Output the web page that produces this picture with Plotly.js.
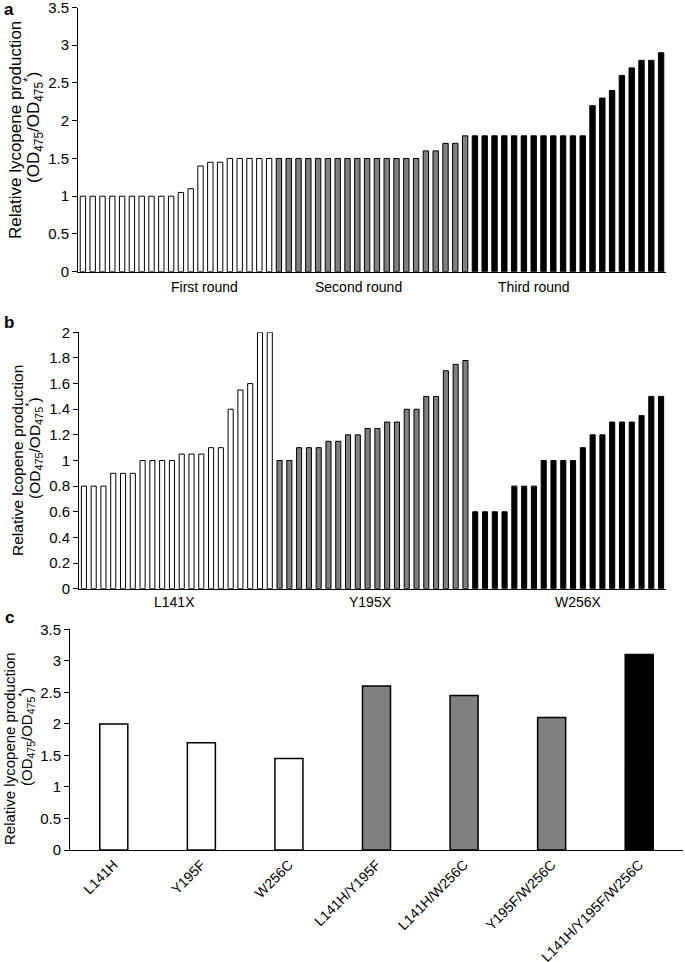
<!DOCTYPE html>
<html>
<head>
<meta charset="utf-8">
<script src="https://cdn.plot.ly/plotly-3.0.1.min.js"></script>
<style>html,body{margin:0;padding:0;background:#fff;}#chart{width:685px;height:962px;}</style>
</head>
<body>
<div id="chart"></div>
<script>
// ---- Panel a data ----
const roundNames = ["First round", "Second round", "Third round"];
const firstRound = [1, 1, 1, 1, 1, 1, 1, 1, 1, 1, 1.05, 1.1, 1.4, 1.45, 1.45, 1.5, 1.5, 1.5, 1.5, 1.5];
const secondRound = [1.5, 1.5, 1.5, 1.5, 1.5, 1.5, 1.5, 1.5, 1.5, 1.5, 1.5, 1.5, 1.5, 1.5, 1.5, 1.6, 1.6, 1.7, 1.7, 1.8];
const thirdRound = [1.8, 1.8, 1.8, 1.8, 1.8, 1.8, 1.8, 1.8, 1.8, 1.8, 1.8, 1.8, 2.2, 2.3, 2.4, 2.6, 2.7, 2.8, 2.8, 2.9];

// ---- Panel b data ----
const siteNames = ["L141X", "Y195X", "W256X"];
const l141x = [0.8, 0.8, 0.8, 0.9, 0.9, 0.9, 1, 1, 1, 1, 1.05, 1.05, 1.05, 1.1, 1.1, 1.4, 1.55, 1.6, 2, 2];
const y195x = [1, 1, 1.1, 1.1, 1.1, 1.15, 1.15, 1.2, 1.2, 1.25, 1.25, 1.3, 1.3, 1.4, 1.4, 1.5, 1.5, 1.7, 1.75, 1.78];
const w256x = [0.6, 0.6, 0.6, 0.6, 0.8, 0.8, 0.8, 1, 1, 1, 1, 1.1, 1.2, 1.2, 1.3, 1.3, 1.3, 1.35, 1.5, 1.5];

// ---- Panel c data ----
const mutants = ["L141H", "Y195F", "W256C", "L141H/Y195F", "L141H/W256C", "Y195F/W256C", "L141H/Y195F/W256C"];
const mutantValues = [2.0, 1.7, 1.45, 2.6, 2.45, 2.1, 3.1];
const mutantGroups = ["single", "single", "single", "double", "double", "double", "triple"];

const FONT = "Liberation Sans, Arial, sans-serif";
const fills = ["#ffffff", "#808080", "#000000"];
const groupFill = {single: "#ffffff", double: "#808080", triple: "#000000"};

function seqTraces(groups, xa, ya, w) {
  const traces = [];
  let start = 0;
  groups.forEach((vals, gi) => {
    traces.push({
      type: "bar",
      x: vals.map((v, i) => start + i),
      y: vals,
      width: w,
      xaxis: xa, yaxis: ya,
      marker: {color: fills[gi], line: {color: "#000", width: 1}},
      hoverinfo: "y",
      showlegend: false
    });
    start += vals.length;
  });
  return traces;
}

const data = [].concat(
  seqTraces([firstRound, secondRound, thirdRound], "x", "y", 0.55),
  seqTraces([l141x, y195x, w256x], "x2", "y2", 0.52),
  [{
    type: "bar",
    x: mutants,
    y: mutantValues,
    width: 0.32,
    xaxis: "x3", yaxis: "y3",
    marker: {color: mutantGroups.map(g => groupFill[g]), line: {color: "#000", width: 1.5}},
    hoverinfo: "y",
    showlegend: false
  }]
);

const W = 685, H = 962;
const px = v => v / W;
const py = v => 1 - v / H;

const yCommon = {
  showline: true, linecolor: "#000", linewidth: 1,
  ticks: "outside", ticklen: 5, tickcolor: "#000", tickwidth: 1,
  showgrid: false, zeroline: false, ticklabeloverflow: "allow",
  tickfont: {family: FONT, size: 15, color: "#000"}
};
const xCommon = {
  showline: true, linecolor: "#000", linewidth: 1.2,
  ticks: "", showgrid: false, zeroline: false, ticklabeloverflow: "allow",
  tickfont: {family: FONT, size: 14, color: "#000"}
};

const line1 = "Relative lycopene production";
const line1b = "Relative lcopene production";
const line2 = "(OD<sub>475</sub>/OD<sub>475</sub><sup>*</sup>)";

function ann(text, x, y, size, extra) {
  return Object.assign({
    text: text, x: x, y: y, xref: "paper", yref: "paper",
    xanchor: "center", yanchor: "middle", showarrow: false,
    font: {family: FONT, size: size, color: "#000"}
  }, extra || {});
}
const rot = {textangle: -90};

const layout = {
  width: W, height: H,
  margin: {l: 0, r: 0, t: 0, b: 0},
  paper_bgcolor: "#fff", plot_bgcolor: "#fff",
  barmode: "overlay",
  showlegend: false,
  xaxis: Object.assign({}, xCommon, {domain: [px(78), px(666)], range: [-0.5, 59.5], showticklabels: false, anchor: "y"}),
  yaxis: Object.assign({}, yCommon, {domain: [py(271.7), py(7.5)], range: [0, 3.5], dtick: 0.5, anchor: "x"}),
  xaxis2: Object.assign({}, xCommon, {domain: [px(79), px(666)], range: [-0.5, 59.5], showticklabels: false, anchor: "y2"}),
  yaxis2: Object.assign({}, yCommon, {domain: [py(588.7), py(332.3)], range: [0, 2], dtick: 0.2, anchor: "x2"}),
  xaxis3: Object.assign({}, xCommon, {domain: [px(70), px(683)], range: [-0.5, 6.5], tickangle: -45, anchor: "y3",
    categoryorder: "array", categoryarray: mutants}),
  yaxis3: Object.assign({}, yCommon, {domain: [py(850), py(629.3)], range: [0, 3.5], dtick: 0.5, anchor: "x3"}),
  annotations: [
    ann("<b>a</b>", px(9), py(10), 17),
    ann("<b>b</b>", px(9), py(323), 17),
    ann("<b>c</b>", px(9), py(617), 17),
    // y titles, one annotation per line
    ann(line1, px(16), py(130), 17, rot),
    ann(line2, px(33), py(128), 17, rot),
    ann(line1b, px(17), py(461), 15.5, rot),
    ann(line2, px(34), py(448), 15.5, rot),
    ann(line1, px(9.5), py(748.5), 15, rot),
    ann(line2, px(26.5), py(737.5), 15, rot),
    // panel a round labels
    ann(roundNames[0], 12.36, py(287), 14, {xref: "x"}),
    ann(roundNames[1], 28.17, py(287), 14, {xref: "x"}),
    ann(roundNames[2], 46.03, py(287), 14, {xref: "x"}),
    // panel b site labels
    ann(siteNames[0], 9.31, py(602), 14, {xref: "x2"}),
    ann(siteNames[1], 29.25, py(602), 14, {xref: "x2"}),
    ann(siteNames[2], 50.6, py(602), 14, {xref: "x2"})
  ]
};

Plotly.newPlot("chart", data, layout, {displayModeBar: false, staticPlot: true});
</script>
</body>
</html>
